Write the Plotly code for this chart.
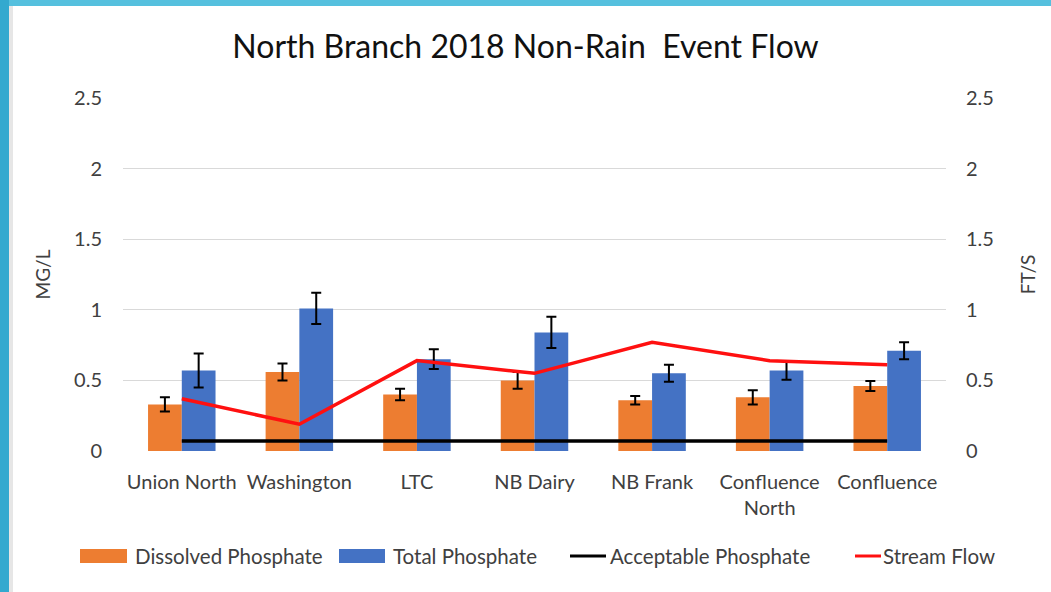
import plotly.graph_objects as go

categories = ["Union North", "Washington", "LTC", "NB Dairy", "NB Frank", "Confluence<br>North", "Confluence"]
dissolved = [0.33, 0.56, 0.40, 0.50, 0.36, 0.38, 0.46]
dissolved_err = [0.05, 0.06, 0.04, 0.06, 0.03, 0.05, 0.035]
total = [0.57, 1.01, 0.65, 0.84, 0.55, 0.57, 0.71]
total_err = [0.12, 0.11, 0.07, 0.11, 0.06, 0.065, 0.06]
acceptable = [0.07] * 7
stream_flow = [0.37, 0.19, 0.64, 0.55, 0.77, 0.64, 0.61]
tick_vals = [0, 0.5, 1, 1.5, 2, 2.5]
tick_text = ["0", "0.5", "1", "1.5", "2", "2.5"]
legend_names = ["Dissolved Phosphate", "Total Phosphate", "Acceptable Phosphate", "Stream Flow"]

FONT = "Lato"
TXT = "#404040"
ORANGE = "#ED7D31"
BLUE = "#4472C4"
RED = "#FF1010"

W, H = 1051, 592
L, R, T, B = 123, 105, 98, 141
PW, PH = W - L - R, H - T - B


def px(x):
    return (x - L) / PW


def py(y):
    return (H - B - y) / PH


fig = go.Figure()
fig.add_trace(go.Bar(
    x=categories, y=dissolved, name=legend_names[0], showlegend=False,
    marker=dict(color=ORANGE, line=dict(width=0)),
    error_y=dict(type="data", array=dissolved_err, color="black", thickness=2, width=5),
))
fig.add_trace(go.Bar(
    x=categories, y=total, name=legend_names[1], showlegend=False,
    marker=dict(color=BLUE, line=dict(width=0)),
    error_y=dict(type="data", array=total_err, color="black", thickness=2, width=5),
))
fig.add_trace(go.Scatter(
    x=categories, y=acceptable, name=legend_names[2], mode="lines", showlegend=False,
    line=dict(color="black", width=3.5),
))
fig.add_trace(go.Scatter(
    x=categories, y=stream_flow, name=legend_names[3], mode="lines", yaxis="y2", showlegend=False,
    line=dict(color=RED, width=3.5),
))

# slide frame + custom legend (swatches + labels), positioned in pixels
leg_y = 556
shapes = [
    dict(type="rect", xref="paper", yref="paper", x0=px(0), x1=px(9), y0=py(H), y1=py(0),
         fillcolor="#33a9cf", line=dict(width=0), layer="below"),
    dict(type="rect", xref="paper", yref="paper", x0=px(9), x1=px(13), y0=py(H), y1=py(6),
         fillcolor="#e6e6e6", line=dict(width=0), layer="below"),
    dict(type="rect", xref="paper", yref="paper", x0=px(9), x1=px(W), y0=py(6), y1=py(0),
         fillcolor="#55c0de", line=dict(width=0), layer="below"),
    dict(type="rect", xref="paper", yref="paper", x0=px(80), x1=px(127), y0=py(leg_y + 7), y1=py(leg_y - 7),
         fillcolor=ORANGE, line=dict(width=0)),
    dict(type="rect", xref="paper", yref="paper", x0=px(339), x1=px(385), y0=py(leg_y + 7), y1=py(leg_y - 7),
         fillcolor=BLUE, line=dict(width=0)),
    dict(type="line", xref="paper", yref="paper", x0=px(570), x1=px(606), y0=py(leg_y), y1=py(leg_y),
         line=dict(color="black", width=3)),
    dict(type="line", xref="paper", yref="paper", x0=px(855), x1=px(881), y0=py(leg_y), y1=py(leg_y),
         line=dict(color=RED, width=3)),
]
leg_x = [133, 391, 608, 881]
annotations = [
    dict(text=name, xref="paper", yref="paper", x=px(xx), y=py(leg_y), xanchor="left", yanchor="middle",
         showarrow=False, font=dict(family=FONT, size=20.5, color=TXT))
    for name, xx in zip(legend_names, leg_x)
]

fig.update_layout(
    width=W, height=H,
    margin=dict(l=L, r=R, t=T, b=B),
    paper_bgcolor="white", plot_bgcolor="white",
    font=dict(family=FONT, color=TXT, size=20),
    barmode="group", bargap=0.426, bargroupgap=0,
    showlegend=False,
    title=dict(text="North Branch 2018 Non-Rain  Event Flow", x=0.5, xanchor="center",
               y=1 - 47 / H, yanchor="middle", yref="container",
               font=dict(family=FONT, size=32, color="#111111")),
    xaxis=dict(showgrid=False, showline=False, ticks="", ticklabelstandoff=17,
               tickfont=dict(size=20, color=TXT)),
    yaxis=dict(range=[0, 2.5], tickvals=tick_vals, ticktext=tick_text,
               showgrid=True, gridcolor="#d9d9d9", gridwidth=1, zeroline=False,
               showline=False, ticks="", ticklabelstandoff=20,
               tickfont=dict(size=20, color=TXT),
               title=dict(text="MG/L", standoff=18, font=dict(size=19, color=TXT))),
    yaxis2=dict(range=[0, 2.5], tickvals=tick_vals, ticktext=tick_text, overlaying="y",
                side="right", showgrid=False, zeroline=False, showline=False, ticks="",
                ticklabelstandoff=19, tickfont=dict(size=20, color=TXT),
                title=dict(text="FT/S", standoff=28, font=dict(size=19, color=TXT))),
    shapes=shapes,
    annotations=annotations,
)

fig.write_html("out.html", config={"displayModeBar": False},
               post_script="document.body.style.margin='0';document.body.style.overflow='hidden';")
